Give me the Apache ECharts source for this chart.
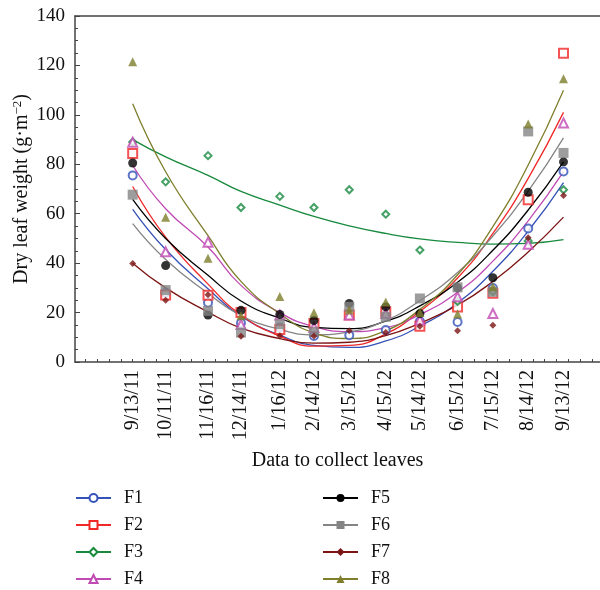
<!DOCTYPE html>
<html>
<head>
<meta charset="utf-8">
<script src="https://cdn.jsdelivr.net/npm/echarts@6/dist/echarts.min.js"></script>
<style>
  html, body { margin: 0; padding: 0; background: #fff; }
  #chart { width: 600px; height: 590px; }
</style>
</head>
<body>
<div id="chart"></div>
<script>
// sampling dates (x positions are real day offsets)
const dates = ['2011-09-13', '2011-10-11', '2011-11-16', '2011-12-14', '2012-01-16', '2012-02-14',
  '2012-03-15', '2012-04-15', '2012-05-14', '2012-06-15', '2012-07-15', '2012-08-14', '2012-09-13'];
const dateLabels = ['9/13/11', '10/11/11', '11/16/11', '12/14/11', '1/16/12', '2/14/12',
  '3/15/12', '4/15/12', '5/14/12', '6/15/12', '7/15/12', '8/14/12', '9/13/12'];
const yTicks = [0, 20, 40, 60, 80, 100, 120, 140];

// measured points
const f1 = [75.5, 28, 24.0, 15.8, 14, 10.5, 10.8, 12.9, 16.5, 16.2, 29.9, 54.0, 77.1];
const f2 = [84.4, 27.1, 27.0, 20.0, 13.1, 15.6, 19.0, 20.3, 14.5, 22.3, 27.8, 65.6, 124.9];
const f3 = [89, 72.9, 83.5, 62.5, 67.0, 62.5, 69.7, 59.8, 45.3, 24.5, 28.5, 49, 69.7];
const f4 = [88.9, 44.6, 48.5, 15.2, 19, 14, 19, 19.6, 17, 26.4, 19.6, 47.6, 96.7];
const f5 = [80.5, 39.0, 19.0, 20.9, 19.2, 16.8, 23.7, 22.3, 19.6, 30.0, 34.1, 68.7, 81.0];
const f6 = [67.7, 29.1, 20.7, 11.9, 15.3, 12.2, 22.3, 18.3, 25.7, 30.2, 28.4, 93.3, 84.6];
const f7 = [39.9, 25.0, 27.2, 10.4, 10.6, 10.5, 12.6, 11.9, 14.5, 12.6, 14.9, 50.3, 67.4];
const f8 = [121.5, 58.6, 42.0, 18.7, 26.5, 19.9, 21.0, 24.3, 20.0, 19.4, 30.4, 96.3, 114.6];

// fitted curves at each date
const fit1 = [61.8, 45.5, 29.6, 18.5, 10.9, 6.7, 5.9, 8.5, 14.5, 23.9, 36.7, 53.0, 72.6];
const fit2 = [71.0, 50.5, 31.5, 19.0, 10.5, 6.4, 6.7, 11.4, 20.5, 34.0, 52.0, 74.3, 101.0];
const fit3 = [90.0, 83.0, 75.5, 69.0, 63.5, 58.9, 55.1, 52.0, 49.8, 48.4, 47.7, 48.0, 49.5];
const fit4 = [79.5, 62.0, 46.5, 31.0, 20.0, 14.3, 12.3, 13.9, 19.2, 28.2, 40.8, 57.1, 77.0];
const fit5 = [65.8, 50.0, 35.1, 24.7, 17.7, 14.0, 13.5, 16.5, 22.7, 32.3, 45.2, 61.5, 81.0];
const fit6 = [56.0, 41.5, 27.8, 18.8, 13.2, 11.0, 12.2, 16.8, 24.8, 36.2, 51.0, 69.1, 90.7];
const fit7 = [40.0, 30.0, 20.2, 13.7, 9.5, 7.6, 8.0, 10.7, 15.7, 23.0, 32.6, 44.5, 58.6];
const fit8 = [104.5, 77.0, 51.1, 32.6, 19.5, 11.8, 9.5, 12.7, 21.3, 35.3, 54.8, 79.7, 110.0];

const names = ['F1', 'F2', 'F3', 'F4', 'F5', 'F6', 'F7', 'F8'];
const points = [f1, f2, f3, f4, f5, f6, f7, f8];
const fits = [fit1, fit2, fit3, fit4, fit5, fit6, fit7, fit8];
const colors = ['#3552b8', '#f02828', '#178a3e', '#c04ab4', '#000000', '#848484', '#7c1414', '#7e7e2c'];
const symbols = ['emptyCircle', 'emptyRect', 'emptyDiamond', 'emptyTriangle', 'circle', 'rect', 'diamond', 'triangle'];
const sizes = [8, 9, 7, 9, 9, 10, 7, 9];

const day0 = Date.parse(dates[0]);
const days = dates.map(d => Math.round((Date.parse(d) - day0) / 864e5));

const serif = '"Liberation Serif", "DejaVu Serif", serif';

const tickDays = [];
for (let d = -40; d <= 390; d += 10) tickDays.push(d);

const series = [];
names.forEach((n, i) => {
  series.push({
    name: n,
    type: 'line',
    smooth: true,
    symbol: symbols[i],
    showSymbol: false,
    silent: true,
    z: 2,
    lineStyle: { color: colors[i], width: 1.3 },
    itemStyle: { color: colors[i] },
    data: fits[i].map((v, j) => [days[j], v])
  });
});
names.forEach((n, i) => {
  series.push({
    name: n + ' data',
    type: 'scatter',
    symbol: symbols[i],
    symbolSize: sizes[i],
    z: 3,
    itemStyle: { color: colors[i], borderWidth: 1.2 },
    data: points[i].map((v, j) => [days[j], v])
  });
});

const legendText = { fontFamily: serif, fontSize: 18, lineHeight: 16, color: '#111', padding: [0, 0, 0, 8] };

const chart = echarts.init(document.getElementById('chart'));
chart.setOption({
  animation: false,
  backgroundColor: '#fff',
  grid: { left: 75, top: 16, right: 0, bottom: 228, outerBoundsMode: 'none', containLabel: false },
  legend: [
    { left: 75, top: 489, height: 110, padding: 0, orient: 'vertical', itemWidth: 35, itemHeight: 10, itemGap: 9,
      data: names.slice(0, 4), textStyle: legendText },
    { left: 322, top: 489, height: 110, padding: 0, orient: 'vertical', itemWidth: 35, itemHeight: 10, itemGap: 9,
      data: names.slice(4), textStyle: legendText }
  ],
  xAxis: [{
    type: 'value',
    min: -49,
    max: 397,
    name: 'Data to collect leaves',
    nameLocation: 'middle',
    nameGap: 89,
    nameTextStyle: { fontFamily: serif, fontSize: 20, color: '#111' },
    splitLine: { show: false },
    axisLine: { onZero: false, lineStyle: { color: '#444', width: 1.5 } },
    axisTick: { inside: true, length: 3, customValues: tickDays, lineStyle: { color: '#444' } },
    axisLabel: {
      customValues: days,
      rotate: 90,
      margin: 8,
      fontFamily: serif,
      fontSize: 20,
      color: '#111',
      formatter: v => dateLabels[days.indexOf(Math.round(v))] || ''
    }
  }, {
    type: 'value',
    position: 'top',
    min: -49,
    max: 397,
    splitLine: { show: false },
    axisLine: { show: true, onZero: false, lineStyle: { color: '#444', width: 1.5 } },
    axisTick: { show: false },
    axisLabel: { show: false }
  }],
  yAxis: {
    type: 'value',
    min: 0,
    max: 140,
    interval: 20,
    name: 'Dry leaf weight (g·m{sup|−2})',
    nameLocation: 'middle',
    nameGap: 43,
    nameMoveOverlap: false,
    nameTextStyle: {
      fontFamily: serif, fontSize: 20, color: '#111',
      rich: { sup: { fontFamily: serif, fontSize: 13, color: '#111', verticalAlign: 'top', padding: [0, 0, 8, 0] } }
    },
    splitLine: { show: false },
    axisLine: { show: true, onZero: false, lineStyle: { color: '#444', width: 1.5 } },
    axisTick: { inside: true, length: 5, lineStyle: { color: '#444' } },
    minorTick: { show: true, splitNumber: 4, length: 3, lineStyle: { color: '#444' } },
    axisLabel: {
      margin: 10,
      fontFamily: serif,
      fontSize: 19,
      color: '#111',
      formatter: v => (yTicks.indexOf(v) >= 0 ? String(v) : '')
    }
  },
  series: series
});
</script>
</body>
</html>
